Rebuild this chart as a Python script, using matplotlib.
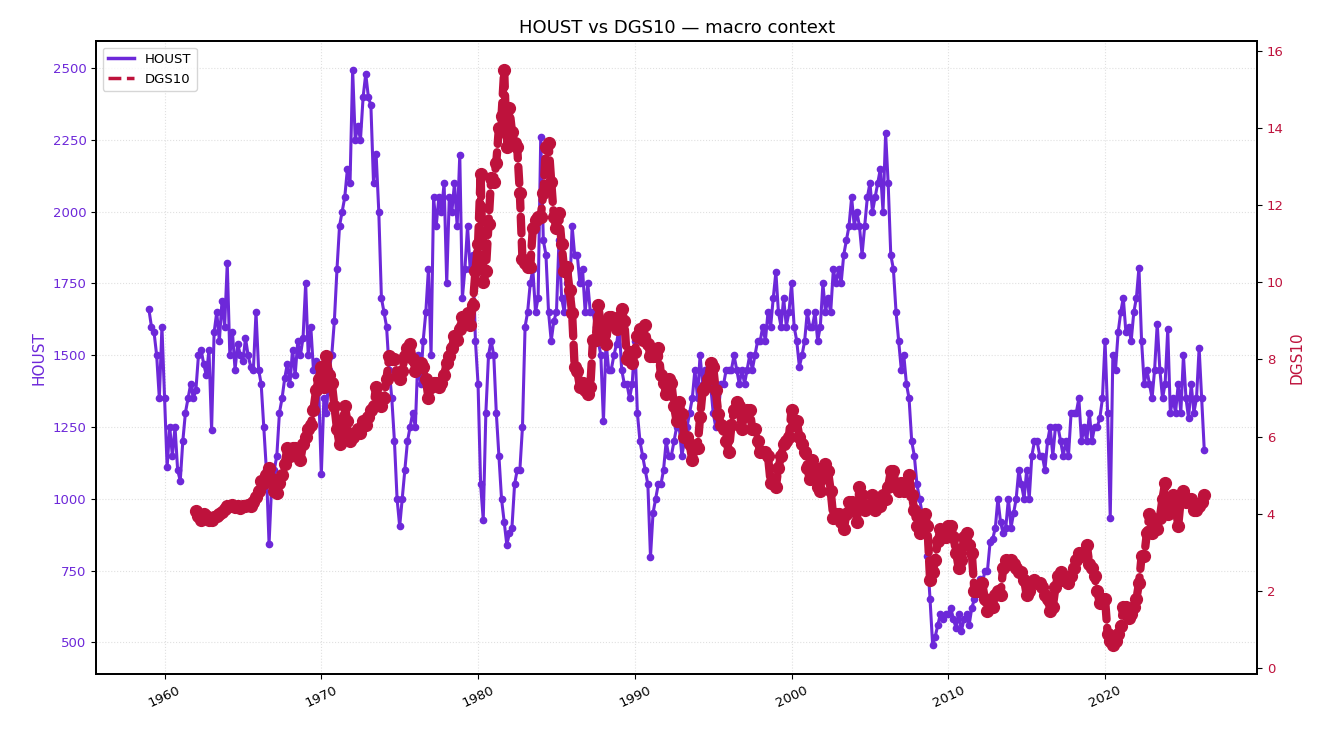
import numpy as np
import pandas as pd
import matplotlib
matplotlib.use("Agg")
import matplotlib.pyplot as plt
import matplotlib.dates as mdates
from matplotlib.lines import Line2D

# HOUST, thousands of units, read every second month (Jan, Mar, May, Jul, Sep, Nov)
houst_start = "1959-01-01"
houst = [
    1660, 1600, 1580, 1500, 1350, 1600,   # 1959
    1350, 1110, 1250, 1150, 1250, 1100,   # 1960
    1063, 1200, 1300, 1350, 1400, 1350,   # 1961
    1380, 1500, 1520, 1470, 1430, 1520,   # 1962
    1240, 1580, 1650, 1550, 1690, 1600,   # 1963
    1820, 1500, 1580, 1450, 1540, 1500,   # 1964
    1480, 1560, 1500, 1460, 1450, 1650,   # 1965
    1450, 1400, 1250, 1100, 843, 1050,    # 1966
    1100, 1150, 1300, 1350, 1420, 1470,   # 1967
    1400, 1520, 1430, 1550, 1500, 1560,   # 1968
    1750, 1500, 1600, 1450, 1480, 1380,   # 1969
    1085, 1350, 1300, 1450, 1500, 1620,   # 1970
    1800, 1950, 2000, 2050, 2150, 2100,   # 1971
    2494, 2250, 2300, 2250, 2400, 2480,   # 1972
    2400, 2370, 2100, 2200, 2000, 1700,   # 1973
    1650, 1600, 1450, 1350, 1200, 1000,   # 1974
    904, 1000, 1100, 1200, 1250, 1300,    # 1975
    1250, 1500, 1400, 1550, 1650, 1800,   # 1976
    1500, 2050, 1950, 2050, 2000, 2100,   # 1977
    1750, 2050, 2000, 2100, 1950, 2197,   # 1978
    1700, 1800, 1950, 1800, 1850, 1550,   # 1979
    1400, 1050, 927, 1300, 1500, 1550,    # 1980
    1500, 1300, 1150, 1000, 920, 840,     # 1981
    880, 900, 1050, 1100, 1100, 1250,     # 1982
    1600, 1650, 1750, 1800, 1650, 1700,   # 1983
    2260, 1900, 1850, 1650, 1550, 1620,   # 1984
    1650, 1900, 1700, 1650, 1750, 1700,   # 1985
    1950, 1850, 1850, 1750, 1800, 1650,   # 1986
    1750, 1650, 1650, 1600, 1550, 1500,   # 1987
    1270, 1550, 1450, 1450, 1500, 1540,   # 1988
    1600, 1450, 1400, 1400, 1350, 1400,   # 1989
    1550, 1300, 1200, 1150, 1100, 1050,   # 1990
    798, 950, 1000, 1050, 1050, 1100,     # 1991
    1200, 1150, 1150, 1200, 1250, 1250,   # 1992
    1150, 1200, 1250, 1300, 1350, 1450,   # 1993
    1350, 1500, 1400, 1450, 1450, 1400,   # 1994
    1300, 1250, 1300, 1400, 1400, 1450,   # 1995
    1450, 1450, 1500, 1450, 1400, 1450,   # 1996
    1400, 1450, 1500, 1450, 1500, 1550,   # 1997
    1550, 1600, 1550, 1650, 1600, 1700,   # 1998
    1790, 1650, 1600, 1700, 1600, 1650,   # 1999
    1750, 1600, 1550, 1460, 1500, 1550,   # 2000
    1650, 1600, 1600, 1650, 1550, 1600,   # 2001
    1750, 1650, 1700, 1650, 1800, 1750,   # 2002
    1800, 1750, 1850, 1900, 1950, 2050,   # 2003
    1950, 2000, 1950, 1850, 1950, 2050,   # 2004
    2100, 2000, 2050, 2100, 2150, 2000,   # 2005
    2273, 2100, 1850, 1800, 1650, 1550,   # 2006
    1450, 1500, 1400, 1350, 1200, 1150,   # 2007
    1050, 1000, 950, 900, 800, 650,       # 2008
    490, 520, 560, 600, 580, 600,         # 2009
    600, 620, 580, 550, 600, 540,         # 2010
    580, 600, 560, 620, 650, 700,         # 2011
    720, 700, 750, 750, 850, 860,         # 2012
    900, 1000, 920, 880, 900, 1000,       # 2013
    900, 950, 1000, 1100, 1050, 1000,     # 2014
    1100, 1000, 1150, 1200, 1200, 1150,   # 2015
    1150, 1100, 1200, 1250, 1150, 1250,   # 2016
    1250, 1200, 1150, 1200, 1150, 1300,   # 2017
    1300, 1300, 1350, 1200, 1250, 1200,   # 2018
    1300, 1200, 1250, 1250, 1280, 1350,   # 2019
    1550, 1300, 934, 1500, 1450, 1580,    # 2020
    1650, 1700, 1580, 1600, 1550, 1650,   # 2021
    1700, 1805, 1550, 1400, 1450, 1400,   # 2022
    1350, 1450, 1610, 1450, 1350, 1400,   # 2023
    1590, 1300, 1350, 1300, 1400, 1300,   # 2024
    1500, 1350, 1280, 1400, 1300, 1350,   # 2025
    1525, 1350, 1170,                     # 2026
]

# DGS10, percent, same two-month spacing
dgs10_start = "1962-01-01"
dgs10 = [
    4.08, 3.95, 3.85, 4.0, 3.95, 3.85,    # 1962
    3.85, 3.92, 3.95, 4.0, 4.05, 4.12,    # 1963
    4.2, 4.2, 4.22, 4.18, 4.2, 4.15,      # 1964
    4.2, 4.2, 4.22, 4.2, 4.3, 4.45,       # 1965
    4.6, 4.85, 4.8, 5.0, 5.2, 4.9,        # 1966
    4.6, 4.55, 4.8, 5.0, 5.3, 5.7,        # 1967
    5.5, 5.7, 5.7, 5.5, 5.4, 5.8,         # 1968
    6.0, 6.2, 6.3, 6.7, 7.2, 7.5,         # 1969
    7.8, 7.3, 8.1, 7.6, 7.4, 6.8,         # 1970
    6.2, 5.8, 6.1, 6.8, 6.4, 5.9,         # 1971
    6.0, 6.1, 6.2, 6.1, 6.4, 6.3,         # 1972
    6.5, 6.7, 6.8, 7.3, 7.0, 6.8,         # 1973
    7.0, 7.5, 8.1, 8.0, 8.0, 7.6,         # 1974
    7.5, 7.7, 8.1, 8.3, 8.4, 8.0,         # 1975
    7.7, 7.8, 7.9, 7.8, 7.5, 7.0,         # 1976
    7.3, 7.4, 7.4, 7.3, 7.4, 7.6,         # 1977
    7.9, 8.1, 8.3, 8.6, 8.5, 8.8,         # 1978
    9.1, 9.1, 9.2, 8.9, 9.4, 10.3,        # 1979
    11.0, 12.8, 10.0, 10.3, 11.5, 12.7,   # 1980
    12.6, 13.1, 14.0, 14.3, 15.5, 13.5,   # 1981
    14.5, 13.9, 13.6, 13.5, 12.3, 10.6,   # 1982
    10.5, 10.4, 10.4, 11.4, 11.6, 11.7,   # 1983
    11.7, 12.3, 13.5, 13.6, 12.6, 11.7,   # 1984
    11.4, 11.8, 11.0, 10.3, 10.4, 9.8,    # 1985
    9.2, 7.8, 7.7, 7.3, 7.4, 7.2,         # 1986
    7.1, 7.3, 8.5, 8.5, 9.4, 8.9,         # 1987
    8.6, 8.4, 9.1, 9.1, 9.0, 8.8,         # 1988
    9.1, 9.3, 9.0, 8.0, 8.2, 7.9,         # 1989
    8.2, 8.6, 8.8, 8.5, 8.9, 8.4,         # 1990
    8.1, 8.1, 8.1, 8.3, 7.6, 7.4,         # 1991
    7.1, 7.5, 7.4, 6.8, 6.4, 6.9,         # 1992
    6.6, 6.0, 6.0, 5.8, 5.4, 5.7,         # 1993
    5.7, 6.5, 7.2, 7.3, 7.5, 7.9,         # 1994
    7.8, 7.2, 6.6, 6.3, 6.2, 5.9,         # 1995
    5.6, 6.3, 6.7, 6.9, 6.8, 6.2,         # 1996
    6.6, 6.7, 6.7, 6.2, 6.2, 5.9,         # 1997
    5.6, 5.6, 5.6, 5.5, 4.8, 4.8,         # 1998
    4.7, 5.2, 5.5, 5.8, 5.9, 6.0,         # 1999
    6.7, 6.3, 6.4, 6.0, 5.8, 5.6,         # 2000
    5.2, 4.9, 5.4, 5.2, 4.7, 4.6,         # 2001
    5.0, 5.3, 5.1, 4.6, 3.9, 4.0,         # 2002
    4.0, 3.8, 3.6, 4.0, 4.3, 4.3,         # 2003
    4.2, 3.8, 4.7, 4.5, 4.1, 4.2,         # 2004
    4.2, 4.5, 4.1, 4.2, 4.2, 4.5,         # 2005
    4.4, 4.7, 5.1, 5.1, 4.7, 4.6,         # 2006
    4.8, 4.6, 4.8, 5.0, 4.5, 4.1,         # 2007
    3.7, 3.5, 3.9, 4.0, 3.7, 2.3,         # 2008
    2.5, 2.8, 3.3, 3.6, 3.4, 3.4,         # 2009
    3.7, 3.7, 3.4, 3.0, 2.6, 2.8,         # 2010
    3.4, 3.5, 3.2, 3.0, 2.0, 2.0,         # 2011
    2.0, 2.2, 1.8, 1.5, 1.7, 1.6,         # 2012
    1.9, 2.0, 1.9, 2.6, 2.8, 2.7,         # 2013
    2.8, 2.7, 2.6, 2.5, 2.5, 2.3,         # 2014
    1.9, 2.0, 2.2, 2.3, 2.2, 2.2,         # 2015
    2.1, 1.9, 1.8, 1.5, 1.6, 2.1,         # 2016
    2.4, 2.5, 2.3, 2.3, 2.2, 2.4,         # 2017
    2.6, 2.8, 3.0, 2.9, 3.0, 3.2,         # 2018
    2.7, 2.6, 2.4, 2.0, 1.7, 1.8,         # 2019
    1.8, 0.9, 0.7, 0.6, 0.7, 0.9,         # 2020
    1.1, 1.6, 1.6, 1.3, 1.4, 1.6,         # 2021
    1.8, 2.2, 2.9, 2.9, 3.5, 4.0,         # 2022
    3.5, 3.7, 3.6, 3.9, 4.4, 4.8,         # 2023
    4.0, 4.2, 4.5, 4.2, 3.7, 4.4,         # 2024
    4.6, 4.3, 4.4, 4.4, 4.1, 4.1,         # 2025
    4.2, 4.3, 4.5,                        # 2026
]

houst_dates = pd.date_range(houst_start, periods=len(houst), freq="2MS")
dgs10_dates = pd.date_range(dgs10_start, periods=len(dgs10), freq="2MS")

c_houst = "#6d28d9"
c_dgs = "#be123c"

fig, ax = plt.subplots(figsize=(13.35, 7.34), dpi=100)
fig.subplots_adjust(left=0.072, right=0.9416, top=0.944, bottom=0.0817)

ax.plot(houst_dates, houst, color=c_houst, lw=2.2, marker="o", ms=4.5)
ax2 = ax.twinx()
ax2.plot(dgs10_dates, dgs10, color=c_dgs, lw=6, ls=(0, (2, 1)), marker="o", ms=8.5,
         solid_capstyle="round", dash_capstyle="round")

ax.set_ylabel("HOUST", color=c_houst, fontsize=11)
ax2.set_ylabel("DGS10", color=c_dgs, fontsize=11)
ax.tick_params(axis="y", labelcolor=c_houst, labelsize=9.5)
ax2.tick_params(axis="y", labelcolor=c_dgs, labelsize=9.5)
ax.tick_params(axis="x", labelsize=9.5, labelrotation=25)
ax.set_yticks([500, 750, 1000, 1250, 1500, 1750, 2000, 2250, 2500])
ax2.set_yticks([0, 2, 4, 6, 8, 10, 12, 14, 16])

ax.xaxis.set_major_locator(mdates.YearLocator(10))
ax.xaxis.set_major_formatter(mdates.DateFormatter("%Y"))

ax.grid(True, ls=":", lw=0.8, color="#cccccc", alpha=0.6)
for sp in list(ax.spines.values()) + list(ax2.spines.values()):
    sp.set_linewidth(1.3)

ax.set_title("HOUST vs DGS10 — macro context", fontsize=13)

handles = [Line2D([], [], color=c_houst, lw=2.5),
           Line2D([], [], color=c_dgs, lw=2.5, ls="--")]
ax2.legend(handles, ["HOUST", "DGS10"], loc="upper left", fontsize=9.5)

fig.savefig("out.png", dpi=100)
